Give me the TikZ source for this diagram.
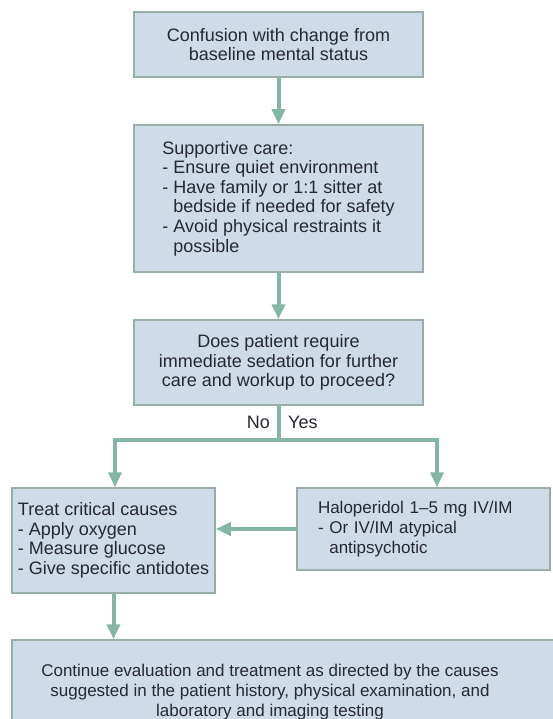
\documentclass[tikz,border=0pt]{standalone}
\usepackage{fontspec}
\setmainfont{Liberation Sans}
\usepackage{xcolor}
\usetikzlibrary{arrows.meta}
\definecolor{boxfill}{RGB}{207,219,231}
\definecolor{boxline}{RGB}{150,174,166}
\definecolor{flowcol}{RGB}{132,182,165}
\definecolor{inkcol}{RGB}{38,40,48}
\tikzset{
	box/.style={draw=boxline, fill=boxfill, line width=1.5pt, inner sep=0pt, text=inkcol, font=\fontsize{18}{19.6}\selectfont},
	smallbox/.style={box, font=\fontsize{17}{19.6}\selectfont},
	flow/.style={draw=flowcol, line width=4pt, -{Triangle[length=15pt, width=13pt]}},
	link/.style={draw=flowcol, line width=4pt},
	answer/.style={inner sep=0pt, text=inkcol, font=\fontsize{18}{19.6}\selectfont}
}
\begin{document}
\begin{tikzpicture}[x=1pt, y=-1pt]
				\useasboundingbox (0,0) rectangle (553,719);
				\node[box, minimum width=289pt, minimum height=65pt, align=center] (confusion) at (278.5,44.5) {Confusion with change from\\baseline mental status};
				\node[box, minimum width=289pt, minimum height=147pt, align=left] (support) at (278.5,198.5) {Supportive care:\\- Ensure quiet environment\\- Have family or 1:1 sitter at\\\phantom{- }bedside if needed for safety\\- Avoid physical restraints it\\\phantom{- }possible};
				\node[box, minimum width=289pt, minimum height=85pt, align=center] (sedation) at (278.5,362.5) {Does patient require\\immediate sedation for further\\care and workup to proceed?};
				\node[box, minimum width=203pt, minimum height=105pt, align=left] (treat) at (113.5,540.5) {Treat critical causes\\- Apply oxygen\\- Measure glucose\\- Give specific antidotes};
				\node[smallbox, minimum width=253pt, minimum height=82pt, inner xsep=21pt, text width=211pt, align=left] (halo) at (423.5,529) {Haloperidol 1–5 mg IV/IM\\- Or IV/IM atypical\\\phantom{- }antipsychotic};
				\node[box, minimum width=560pt, minimum height=100pt] (continue) at (292,690) {};
				\node[answer, font=\fontsize{17}{19.6}\selectfont, align=center] (continuetext) at (270,692) {Continue evaluation and treatment as directed by the causes\\suggested in the patient history, physical examination, and\\laboratory and imaging testing};
				\coordinate (split) at (278.5,440);
				\coordinate (noturn) at (115,440);
				\coordinate (yesturn) at (437,440);
				\node[answer, anchor=base east] (no) at (270,428) {No};
				\node[answer, anchor=base west] (yes) at (288,428) {Yes};
				\draw[flow] (confusion) -- (support);
				\draw[flow] (support) -- (sedation);
				\draw[link] (sedation.south) -- (split);
				\draw[flow] (split) -- (noturn) -- (noturn |- treat.north);
				\draw[flow] (split) -- (yesturn) -- (yesturn |- halo.north);
				\draw[flow] (halo.west) -- (treat.east |- halo.west);
				\draw[flow] (treat.south) -- (treat.south |- continue.north);
			\end{tikzpicture}
\end{document}
